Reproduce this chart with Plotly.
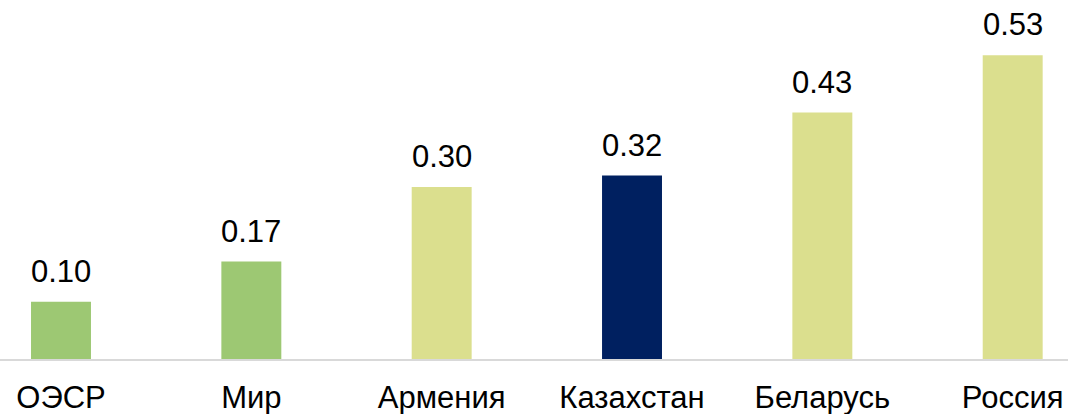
import plotly.graph_objects as go

categories = ["ОЭСР", "Мир", "Армения", "Казахстан", "Беларусь", "Россия"]
values = [0.10, 0.17, 0.30, 0.32, 0.43, 0.53]
labels = ["0.10", "0.17", "0.30", "0.32", "0.43", "0.53"]
colors = ["#9DC873", "#9DC873", "#DBDF8E", "#002060", "#DBDF8E", "#DBDF8E"]

fig = go.Figure()
fig.add_trace(go.Bar(
    x=categories, y=values, marker=dict(color=colors, line=dict(width=0)),
    width=0.315, hoverinfo="skip",
))

for c, v, t in zip(categories, values, labels):
    fig.add_annotation(x=c, y=v, text=t, showarrow=False, yanchor="bottom",
                       yshift=11, font=dict(family="Liberation Sans, Arial", size=31, color="#000000"))

fig.update_layout(
    width=1068, height=414,
    margin=dict(l=0, r=0, t=0, b=54.5),
    paper_bgcolor="white", plot_bgcolor="white",
    showlegend=False,
    font=dict(family="Liberation Sans, Arial", size=31, color="#000000"),
    xaxis=dict(range=[-0.3205, 5.2906], showgrid=False, showline=True,
               linecolor="#D9D9D9", linewidth=2, ticks="", ticklabelstandoff=10,
               tickfont=dict(size=31, color="#000000")),
    yaxis=dict(range=[0, 0.6263], visible=False, showgrid=False, zeroline=False),
)

fig.write_html("out.html", config={"displayModeBar": False},
               post_script="document.body.style.margin='0';document.body.style.overflow='hidden';")
